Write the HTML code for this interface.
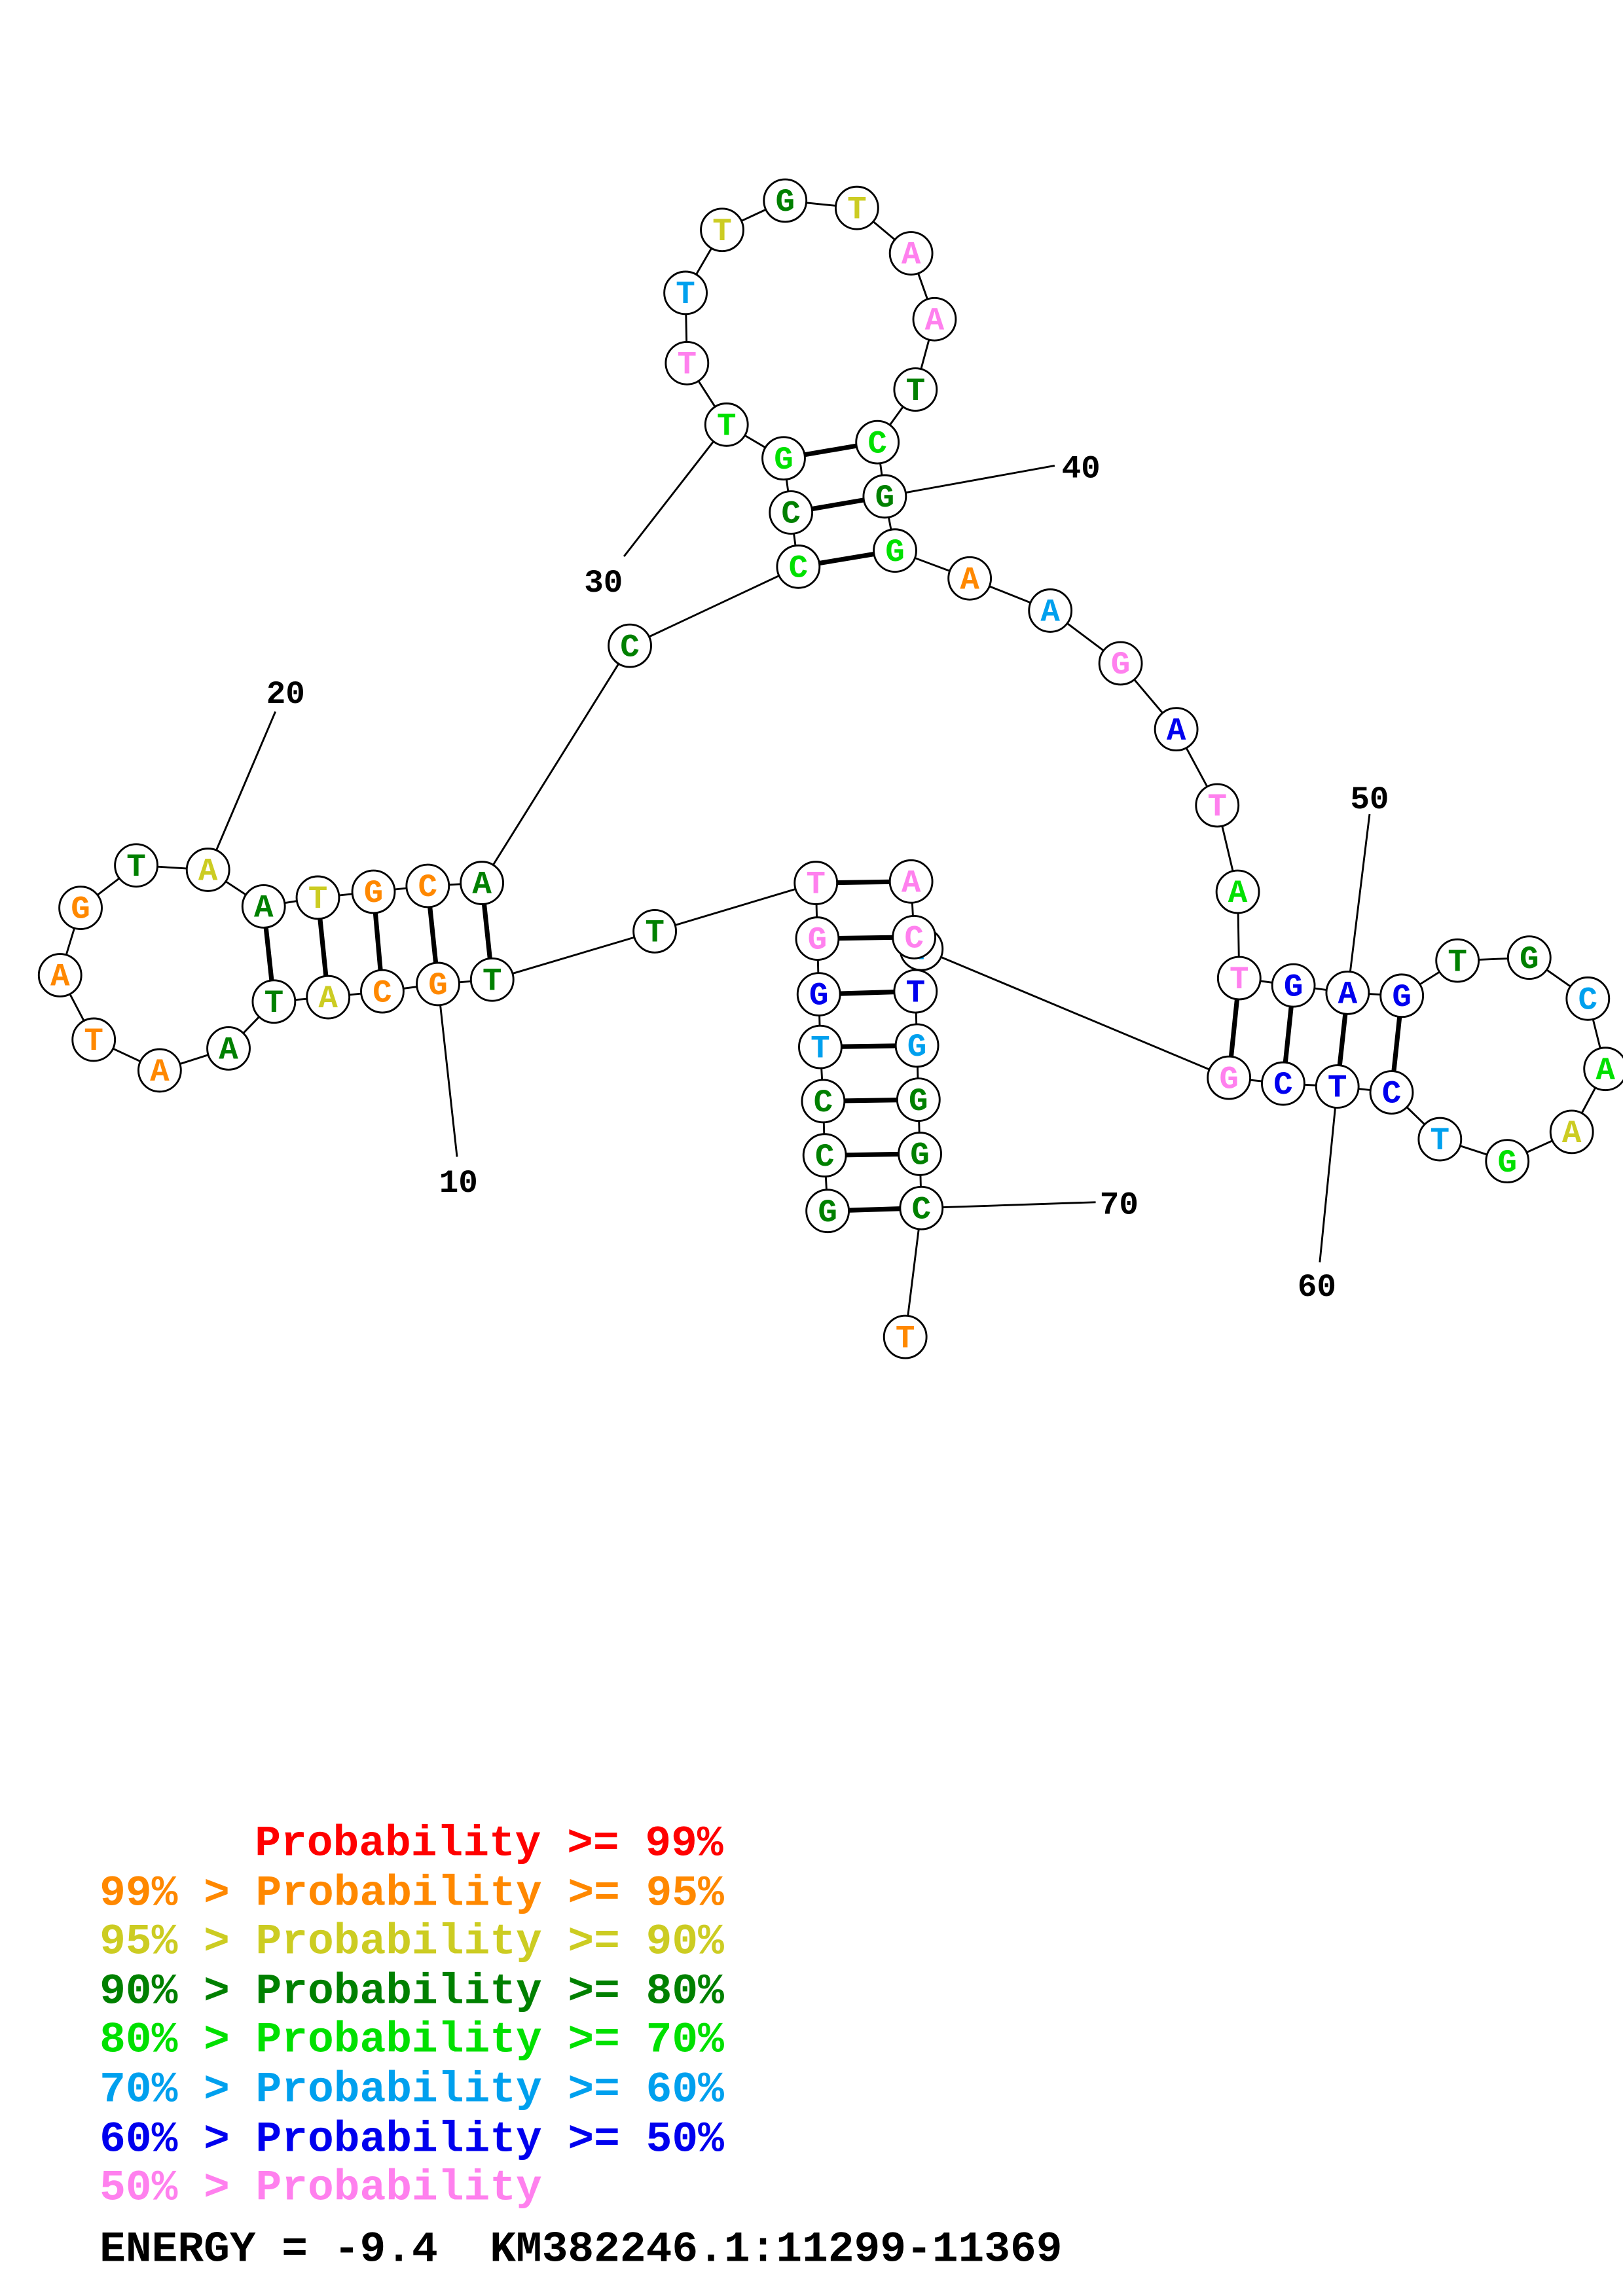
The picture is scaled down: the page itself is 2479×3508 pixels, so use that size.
<!DOCTYPE html>
<html><head><meta charset="utf-8"><style>
html,body{margin:0;padding:0;background:#fff;}
svg{display:block;}
text{font-family:"Liberation Mono",monospace;font-weight:bold;white-space:pre;}
</style></head><body>
<svg width="2479" height="3508" viewBox="0 0 1108 1568" preserveAspectRatio="none" xmlns="http://www.w3.org/2000/svg">
<g stroke="#000" stroke-width="1.3" fill="none">
<line x1="299" y1="672" x2="312" y2="790"/>
<line x1="142" y1="594" x2="188" y2="486"/>
<line x1="496" y1="290" x2="426" y2="380"/>
<line x1="604" y1="339" x2="720" y2="318"/>
<line x1="920" y1="678" x2="935" y2="556"/>
<line x1="913" y1="742" x2="901" y2="862"/>
<line x1="629" y1="825" x2="748" y2="821"/>
<polyline points="565,827 563,789 562,752 560,715 559,679 558,641 557,603 447,636 336,669 299,672 261,677 224,681 187,684 156,716 109,731 64,710 41,666 55,620 93,591 142,594 180,619 217,613 255,609 292,605 329,603 430,441 545,387 540,350 535,313 496,290 469,248 468,200 493,157 536,137 585,142 622,173 638,218 625,266 599,302 604,339 611,376 662,395 717,417 765,453 803,498 831,550 845,609 846,668 883,673 920,678 957,680 995,656 1044,654 1084,682 1096,730 1073,773 1029,793 983,778 950,746 913,742 876,740 839,736 629,648"/>
<polyline points="622,602 624,640 625,677 626,714 627,751 628,788 629,825 618,913"/>
</g>
<g stroke="#000" stroke-width="3.2">
<line x1="180" y1="619" x2="187" y2="684"/>
<line x1="217" y1="613" x2="224" y2="681"/>
<line x1="255" y1="609" x2="261" y2="677"/>
<line x1="292" y1="605" x2="299" y2="672"/>
<line x1="329" y1="603" x2="336" y2="669"/>
<line x1="535" y1="313" x2="599" y2="302"/>
<line x1="540" y1="350" x2="604" y2="339"/>
<line x1="545" y1="387" x2="611" y2="376"/>
<line x1="846" y1="668" x2="839" y2="736"/>
<line x1="883" y1="673" x2="876" y2="740"/>
<line x1="920" y1="678" x2="913" y2="742"/>
<line x1="957" y1="680" x2="950" y2="746"/>
<line x1="557" y1="603" x2="622" y2="602"/>
<line x1="558" y1="641" x2="624" y2="640"/>
<line x1="559" y1="679" x2="625" y2="677"/>
<line x1="560" y1="715" x2="626" y2="714"/>
<line x1="562" y1="752" x2="627" y2="751"/>
<line x1="563" y1="789" x2="628" y2="788"/>
<line x1="565" y1="827" x2="629" y2="825"/>
</g>
<g id="nodes" font-size="22" text-anchor="middle" stroke-width="1.3">
<g><circle cx="629" cy="648" r="14.5" fill="#fff" stroke="#000"/><text x="629" y="655" fill="#00a0ee">T</text></g>
</g>
<script>
var C={o:"#ff8800",y:"#cccc22",d:"#008000",g:"#00e000",l:"#00a0ee",b:"#0000ee",p:"#ff80ee"};
var N=[[565,827,"G","d"],[563,789,"C","d"],[562,752,"C","d"],[560,715,"T","l"],[559,679,"G","b"],[558,641,"G","p"],[557,603,"T","p"],[447,636,"T","d"],[336,669,"T","d"],[299,672,"G","o"],[261,677,"C","o"],[224,681,"A","y"],[187,684,"T","d"],[156,716,"A","d"],[109,731,"A","o"],[64,710,"T","o"],[41,666,"A","o"],[55,620,"G","o"],[93,591,"T","d"],[142,594,"A","y"],[180,619,"A","d"],[217,613,"T","y"],[255,609,"G","o"],[292,605,"C","o"],[329,603,"A","d"],[430,441,"C","d"],[545,387,"C","g"],[540,350,"C","d"],[535,313,"G","g"],[496,290,"T","g"],[469,248,"T","p"],[468,200,"T","l"],[493,157,"T","y"],[536,137,"G","d"],[585,142,"T","y"],[622,173,"A","p"],[638,218,"A","p"],[625,266,"T","d"],[599,302,"C","g"],[604,339,"G","d"],[611,376,"G","g"],[662,395,"A","o"],[717,417,"A","l"],[765,453,"G","p"],[803,498,"A","b"],[831,550,"T","p"],[845,609,"A","g"],[846,668,"T","p"],[883,673,"G","b"],[920,678,"A","b"],[957,680,"G","b"],[995,656,"T","d"],[1044,654,"G","d"],[1084,682,"C","l"],[1096,730,"A","g"],[1073,773,"A","y"],[1029,793,"G","g"],[983,778,"T","l"],[950,746,"C","b"],[913,742,"T","b"],[876,740,"C","b"],[839,736,"G","p"],[622,602,"A","p"],[624,640,"C","p"],[625,677,"T","b"],[626,714,"G","l"],[627,751,"G","d"],[628,788,"G","d"],[629,825,"C","d"],[618,913,"T","o"]];
var g=document.getElementById("nodes"),ns="http://www.w3.org/2000/svg";
N.forEach(function(n){var c=document.createElementNS(ns,"circle");c.setAttribute("cx",n[0]);c.setAttribute("cy",n[1]);c.setAttribute("r",14.5);c.setAttribute("fill","#fff");c.setAttribute("stroke","#000");g.appendChild(c);
var t=document.createElementNS(ns,"text");t.setAttribute("x",n[0]);t.setAttribute("y",n[1]+7);t.setAttribute("fill",C[n[3]]);t.textContent=n[2];g.appendChild(t);});
</script>
<g font-size="22" fill="#000">
<text x="313" y="814" text-anchor="middle">10</text>
<text x="195" y="480" text-anchor="middle">20</text>
<text x="412" y="404" text-anchor="middle">30</text>
<text x="738" y="326" text-anchor="middle">40</text>
<text x="935" y="552" text-anchor="middle">50</text>
<text x="899" y="885" text-anchor="middle">60</text>
<text x="764" y="829" text-anchor="middle">70</text>
</g>
<g font-size="29.6">
<text x="174" y="1267" fill="#ff0000">Probability &gt;= 99%</text>
<text x="68" y="1301" fill="#ff8800">99% &gt; Probability &gt;= 95%</text>
<text x="68" y="1334" fill="#cccc22">95% &gt; Probability &gt;= 90%</text>
<text x="68" y="1368" fill="#008000">90% &gt; Probability &gt;= 80%</text>
<text x="68" y="1401" fill="#00e000">80% &gt; Probability &gt;= 70%</text>
<text x="68" y="1435" fill="#00a0ee">70% &gt; Probability &gt;= 60%</text>
<text x="68" y="1469" fill="#0000ee">60% &gt; Probability &gt;= 50%</text>
<text x="68" y="1502" fill="#ff80ee">50% &gt; Probability</text>
<text x="68" y="1544" fill="#000">ENERGY = -9.4  KM382246.1:11299-11369</text>
</g>
</svg>
</body></html>
